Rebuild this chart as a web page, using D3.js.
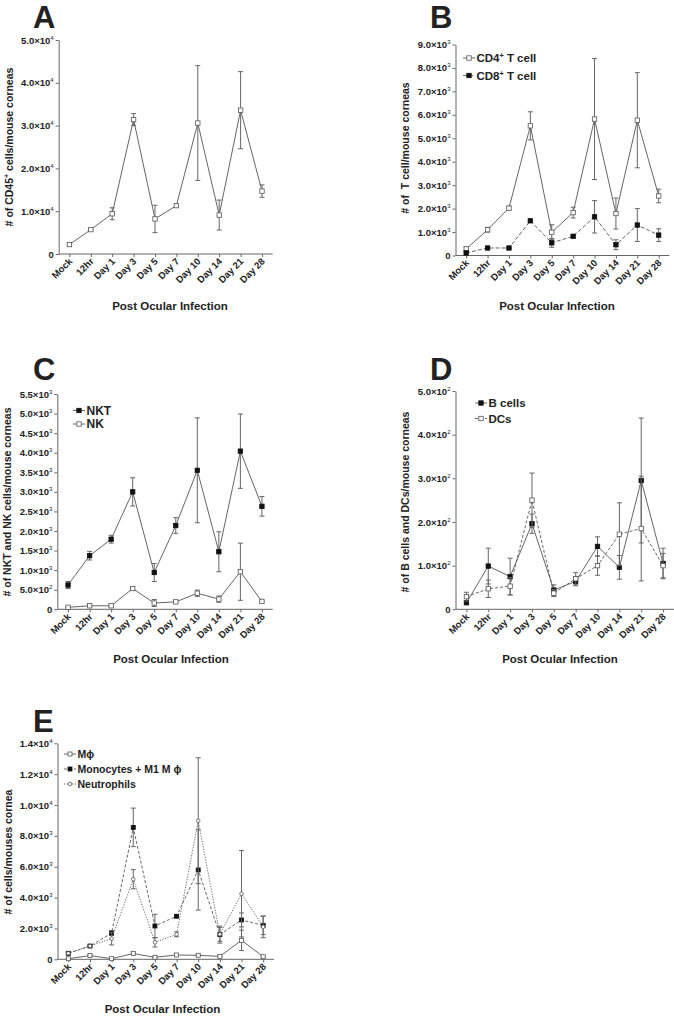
<!DOCTYPE html>
<html><head><meta charset="utf-8">
<script src="https://cdn.jsdelivr.net/npm/d3@7"></script>
<style>
body{margin:0;background:#fff}
svg{display:block}
text{font-family:"Liberation Sans",Arial,sans-serif;font-weight:bold;fill:#222}
</style>
</head><body><svg id="c" width="674" height="1016"></svg>
<script>
// ---------- data ----------
const categories = ["Mock","12hr","Day 1","Day 3","Day 5","Day 7","Day 10","Day 14","Day 21","Day 28"];

// Panel A: CD45+ cells
const cd45    = [2200, 5700, 9400, 31400, 8200, 11300, 30600, 9100, 33600, 14700];
const cd45Err = [300, 200, 1400, 1400, 3200, 300, 13400, 3500, 9000, 1450];
const ticksA  = [0, 1e4, 2e4, 3e4, 4e4, 5e4];

// Panel B: T cells
const cd4     = [280, 1100, 2020, 5530, 990, 1830, 5820, 1790, 5770, 2540];
const cd4Err  = [80, 100, 80, 600, 320, 230, 2580, 660, 2030, 290];
const cd8     = [110, 320, 320, 1480, 540, 820, 1650, 460, 1300, 870];
const cd8Err  = [50, 30, 30, 50, 190, 50, 690, 210, 700, 270];
const ticksB  = [0, 1e3, 2e3, 3e3, 4e3, 5e3, 6e3, 7e3, 8e3, 9e3];

// Panel C: NKT and NK
const nkt     = [620, 1370, 1790, 3000, 940, 2140, 3550, 1470, 4040, 2630];
const nktErr  = [90, 110, 100, 360, 230, 200, 1340, 510, 950, 250];
const nk      = [50, 90, 90, 530, 160, 190, 410, 260, 960, 200];
const nkErr   = [10, 20, 20, 30, 90, 20, 80, 80, 730, 20];
const ticksC  = [0, 500, 1000, 1500, 2000, 2500, 3000, 3500, 4000, 4500, 5000, 5500];

// Panel D: B cells and DCs
const bcells    = [15, 99, 75, 196, 44, 64, 144, 96, 295, 105];
const bcellsErr = [3, 41, 42, 22, 12, 10, 22, 27, 143, 35];
const dcs       = [29, 47, 53, 250, 37, 70, 100, 172, 185, 100];
const dcsErr    = [10, 20, 20, 62, 8, 14, 22, 72, 120, 28];
const ticksD    = [0, 100, 200, 300, 400, 500];

// Panel E: macrophages, monocytes, neutrophils
const mphi     = [40, 240, 40, 370, 130, 280, 260, 190, 1230, 170];
const mphiErr  = [20, 50, 20, 40, 30, 30, 30, 20, 660, 20];
const mono     = [390, 860, 1700, 8550, 2160, 2790, 5790, 1600, 2550, 2200];
const monoErr  = [40, 50, 150, 1250, 760, 80, 2600, 550, 450, 600];
const neut     = [390, 860, 1340, 5190, 1100, 1620, 8980, 1620, 4250, 2100];
const neutErr  = [40, 50, 410, 620, 300, 160, 4080, 450, 2800, 700];
const ticksE   = [0, 2e3, 4e3, 6e3, 8e3, 1e4, 1.2e4, 1.4e4];

// ---------- drawing ----------
const svg = d3.select("#c");
const LINE = "#666";

function sci(v){
  if (v === 0) return null;
  const e = Math.floor(Math.log10(v) + 1e-9);
  const m = (v / Math.pow(10, e)).toFixed(1);
  return [m + "×10", String(e)];
}

function drawPanel(cfg){
  const g = svg.append("g");
  const x = d3.scalePoint().domain(categories).range([cfg.x0, cfg.x1]).padding(0.5);
  const y = d3.scaleLinear().domain([0, cfg.ymax]).range([cfg.yb, cfg.yt]);

  // y axis
  const ya = g.append("g").attr("transform", `translate(${cfg.x0},0)`)
    .call(d3.axisLeft(y).tickValues(cfg.ticks).tickSize(3).tickSizeOuter(0).tickPadding(2));
  ya.select(".domain").attr("stroke", LINE);
  ya.selectAll(".tick line").attr("stroke", LINE);
  ya.selectAll(".tick text").attr("font-size", 9.5).attr("fill", "#333")
    .each(function(d){
      const t = d3.select(this);
      const s = sci(d);
      t.text(null);
      if (!s){ t.text("0"); return; }
      t.append("tspan").text(s[0]);
      t.append("tspan").attr("dy", -4).attr("font-size", 6).attr("font-weight", "normal").text(s[1]);
    });

  // x axis
  const xa = g.append("g").attr("transform", `translate(0,${cfg.yb})`)
    .call(d3.axisBottom(x).tickSize(3).tickSizeOuter(0));
  xa.select(".domain").attr("stroke", LINE).attr("d", `M${cfg.x0},0H${cfg.x1}`);
  xa.selectAll(".tick line").attr("stroke", LINE);
  xa.selectAll(".tick text").attr("font-size", 9.5).attr("fill", "#333")
    .attr("text-anchor", "end").attr("dy", null).attr("y", 0)
    .attr("transform", "translate(3,8) rotate(-45)");

  // series
  cfg.series.forEach(s => {
    const line = d3.line().x((d,i) => x(categories[i])).y(d => y(d));
    g.append("path").datum(s.values).attr("d", line).attr("fill", "none")
      .attr("stroke", LINE).attr("stroke-width", 1)
      .attr("stroke-dasharray", s.dash || null);
    const eb = g.append("g").attr("stroke", LINE).attr("stroke-width", 1);
    s.values.forEach((v,i) => {
      const e = s.err[i];
      const cx = x(categories[i]);
      const lo = y(Math.max(0, v - e)), hi = y(v + e);
      eb.append("line").attr("x1", cx).attr("x2", cx).attr("y1", lo).attr("y2", hi);
      eb.append("line").attr("x1", cx-2.5).attr("x2", cx+2.5).attr("y1", hi).attr("y2", hi);
      eb.append("line").attr("x1", cx-2.5).attr("x2", cx+2.5).attr("y1", lo).attr("y2", lo);
    });
    s.values.forEach((v,i) => marker(g, x(categories[i]), y(v), s));
  });

  // panel letter
  g.append("text").attr("x", cfg.lx).attr("y", cfg.ly).attr("font-size", 31).attr("fill", "#111").text(cfg.letter);

  // y title
  const yt = g.append("text").attr("transform", `translate(${cfg.ytx},${cfg.yty}) rotate(-90)`)
    .attr("text-anchor", "middle").attr("font-size", 10.5);
  cfg.ytitle.forEach(p => {
    const ts = yt.append("tspan").text(p.t);
    if (p.sup) ts.attr("dy", -4).attr("font-size", 7);
    if (p.after) ts.attr("dy", 4);
  });

  // x title
  g.append("text").attr("x", cfg.xtx).attr("y", cfg.xty).attr("text-anchor", "middle")
    .attr("font-size", 11.5).text("Post Ocular Infection");

  // legend
  if (cfg.legend){
    cfg.series.forEach((s,i) => {
      if (!s.label) return;
      const ly = cfg.legend.y + i * cfg.legend.dy;
      const lx = cfg.legend.x;
      g.append("line").attr("x1", lx).attr("x2", lx + 12).attr("y1", ly).attr("y2", ly)
        .attr("stroke", LINE).attr("stroke-dasharray", s.dash || null);
      marker(g, lx + 6, ly, s);
      const t = g.append("text").attr("x", lx + 13.5).attr("y", ly + cfg.legend.fs*0.36)
        .attr("font-size", cfg.legend.fs);
      s.label.forEach(p => {
        const ts = t.append("tspan").text(p.t);
        if (p.sup) ts.attr("dy", -4).attr("font-size", cfg.legend.fs*0.62);
        if (p.after) ts.attr("dy", 4);
      });
    });
  }
}

function marker(g, cx, cy, s){
  if (s.shape === "circle"){
    g.append("circle").attr("cx", cx).attr("cy", cy).attr("r", s.size || 2)
      .attr("fill", s.filled ? "#111" : "#fff").attr("stroke", s.filled ? "#111" : "#555").attr("stroke-width", 0.8);
  } else {
    const h = (s.size || 4.4) / 2;
    g.append("rect").attr("x", cx - h).attr("y", cy - h).attr("width", 2*h).attr("height", 2*h)
      .attr("fill", s.filled ? "#111" : "#fff").attr("stroke", s.filled ? "#111" : "#555").attr("stroke-width", 0.8);
  }
}

drawPanel({
  letter:"A", lx:33, ly:28, x0:58.7, x1:272.7, yb:254, yt:40, ymax:5e4, ticks:ticksA,
  ytx:12.5, yty:147, ytitle:[{t:"# of CD45"},{t:"+",sup:true},{t:" cells/mouse corneas",after:true}],
  xtx:170, xty:310,
  series:[{values:cd45, err:cd45Err, shape:"square", filled:false}]
});

drawPanel({
  letter:"B", lx:430, ly:28, x0:455.5, x1:669.4, yb:255.5, yt:44.5, ymax:9e3, ticks:ticksB,
  ytx:409, yty:148, ytitle:[{t:"# of \u00a0T cell/mouse corneas"}],
  xtx:557, xty:310,
  legend:{x:463, y:58, dy:17.5, fs:11.5},
  series:[
    {values:cd4, err:cd4Err, shape:"square", filled:false, label:[{t:"CD4"},{t:"+",sup:true},{t:" T cell",after:true}]},
    {values:cd8, err:cd8Err, shape:"square", filled:true, dash:"4,2", label:[{t:"CD8"},{t:"+",sup:true},{t:" T cell",after:true}]}
  ]
});

drawPanel({
  letter:"C", lx:33, ly:380, x0:57.3, x1:272.7, yb:609.3, yt:394, ymax:5.5e3, ticks:ticksC,
  ytx:11, yty:502, ytitle:[{t:"# of NKT and NK cells/mouse corneas"}],
  xtx:171, xty:663,
  legend:{x:73, y:410.5, dy:13.5, fs:12},
  series:[
    {values:nkt, err:nktErr, shape:"square", filled:true, label:[{t:"NKT"}]},
    {values:nk, err:nkErr, shape:"square", filled:false, label:[{t:"NK"}]}
  ]
});

drawPanel({
  letter:"D", lx:430, ly:380, x0:455.5, x1:674, yb:609.3, yt:391, ymax:500, ticks:ticksD,
  ytx:409, yty:502, ytitle:[{t:"# of B cells and DCs/mouse corneas"}],
  xtx:560, xty:663,
  legend:{x:475, y:403, dy:15.5, fs:11.5},
  series:[
    {values:bcells, err:bcellsErr, shape:"square", filled:true, label:[{t:"B cells"}]},
    {values:dcs, err:dcsErr, shape:"square", filled:false, dash:"3,2", label:[{t:"DCs"}]}
  ]
});

drawPanel({
  letter:"E", lx:33, ly:732, x0:57.5, x1:274, yb:959.3, yt:743.3, ymax:1.4e4, ticks:ticksE,
  ytx:12, yty:852, ytitle:[{t:"# of cells/mouses cornea"}],
  xtx:162.5, xty:1013,
  legend:{x:64, y:754, dy:15, fs:10.5},
  series:[
    {values:mphi, err:mphiErr, shape:"square", filled:false, size:4, label:[{t:"Mϕ"}]},
    {values:mono, err:monoErr, shape:"square", filled:true, size:4, dash:"3,2", label:[{t:"Monocytes + M1 M ϕ"}]},
    {values:neut, err:neutErr, shape:"circle", filled:false, size:1.8, dash:"1.2,1.5", label:[{t:"Neutrophils"}]}
  ]
});
</script>
</body></html>
